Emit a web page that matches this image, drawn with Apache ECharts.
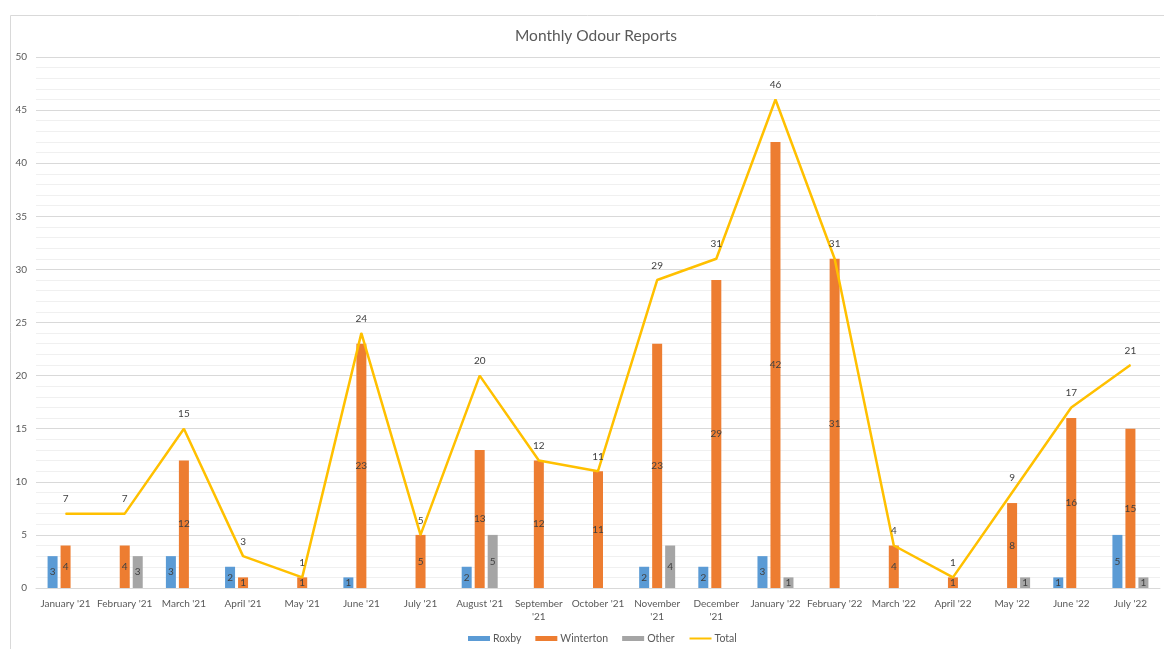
<!DOCTYPE html>
<html>
<head>
<meta charset="utf-8">
<title>Monthly Odour Reports</title>
<script src="https://cdn.jsdelivr.net/npm/echarts@6/dist/echarts.min.js"></script>
<style>
  html, body { margin: 0; padding: 0; background: #fff; }
  #chart { width: 1164px; height: 649px; }
</style>
</head>
<body>
<div id="chart"></div>
<script>
var months = ["January '21", "February '21", "March '21", "April '21", "May '21", "June '21",
  "July '21", "August '21", "September '21", "October '21", "November '21", "December '21",
  "January '22", "February '22", "March '22", "April '22", "May '22", "June '22", "July '22"];
var roxby = [3, null, 3, 2, null, 1, null, 2, null, null, 2, 2, 3, null, null, null, null, 1, 5];
var winterton = [4, 4, 12, 1, 1, 23, 5, 13, 12, 11, 23, 29, 42, 31, 4, 1, 8, 16, 15];
var other = [null, 3, null, null, null, null, null, 5, null, null, 4, null, 1, null, null, null, 1, null, 1];
var total = [7, 7, 15, 3, 1, 24, 5, 20, 12, 11, 29, 31, 46, 31, 4, 1, 9, 17, 21];
var wrapped = ["September '21", "November '21", "December '21"]; // these wrap onto two lines

var textColor = "#595959";
var fontFamily = "Lato, 'Open Sans', sans-serif";

function barSeries(name, data, color) {
  return {
    name: name,
    type: "bar",
    data: data,
    barWidth: 10,
    barGap: "30%",
    itemStyle: { color: color },
    label: {
      show: true,
      position: "inside",
      color: "#404040",
      fontSize: 10,
      fontFamily: fontFamily,
    },
  };
}

var myChart = echarts.init(document.getElementById("chart"));
var option = {
  animation: false,
  textStyle: { fontFamily: fontFamily },
  graphic: [
    {
      type: "rect",
      left: 8,
      top: 13,
      shape: { width: 1170, height: 650 },
      style: { fill: "none", stroke: "#d9d9d9", lineWidth: 1 },
      silent: true,
    },
  ],
  title: {
    text: "Monthly Odour Reports",
    left: 591,
    textAlign: "center",
    top: 23,
    textStyle: { color: textColor, fontSize: 15.5, fontWeight: "normal", fontFamily: fontFamily },
  },
  legend: {
    bottom: 0,
    left: 463,
    itemWidth: 22,
    itemHeight: 5,
    itemGap: 14,
    textStyle: { color: textColor, fontSize: 10.5, padding: [0, 0, 0, -2] },
    data: [
      { name: "Roxby", icon: "rect" },
      { name: "Winterton", icon: "rect" },
      { name: "Other", icon: "rect" },
      { name: "Total", itemStyle: { opacity: 0 } },
    ],
  },
  grid: { left: 36, right: 4, top: 57, bottom: 61 },
  xAxis: {
    type: "category",
    data: months,
    axisTick: { show: false },
    axisLine: { lineStyle: { color: "#d9d9d9" } },
    axisLabel: {
      color: textColor,
      fontSize: 10,
      margin: 9,
      interval: 0,
      lineHeight: 13,
      formatter: function (v) {
        return wrapped.indexOf(v) >= 0 ? v.replace(" '", "\n'") : v;
      },
    },
  },
  yAxis: {
    type: "value",
    min: 0,
    max: 50,
    interval: 5,
    axisLabel: { color: textColor, fontSize: 10, margin: 9 },
    axisLine: { show: false },
    splitLine: { lineStyle: { color: "#d9d9d9", width: 1 } },
    minorTick: { show: false, splitNumber: 5 },
    minorSplitLine: { show: true, lineStyle: { color: "#f0f0f0", width: 1 } },
  },
  series: [
    barSeries("Roxby", roxby, "#5B9BD5"),
    barSeries("Winterton", winterton, "#ED7D31"),
    barSeries("Other", other, "#A5A5A5"),
    {
      name: "Total",
      type: "line",
      data: total,
      symbol: "circle",
      symbolSize: 1,
      itemStyle: { color: "#FFC000" },
      lineStyle: { color: "#FFC000", width: 2.5 },
      label: {
        show: true,
        position: "top",
        distance: 9,
        color: "#404040",
        fontSize: 10,
      },
      z: 5,
    },
  ],
};
myChart.setOption(option);
</script>
</body>
</html>
